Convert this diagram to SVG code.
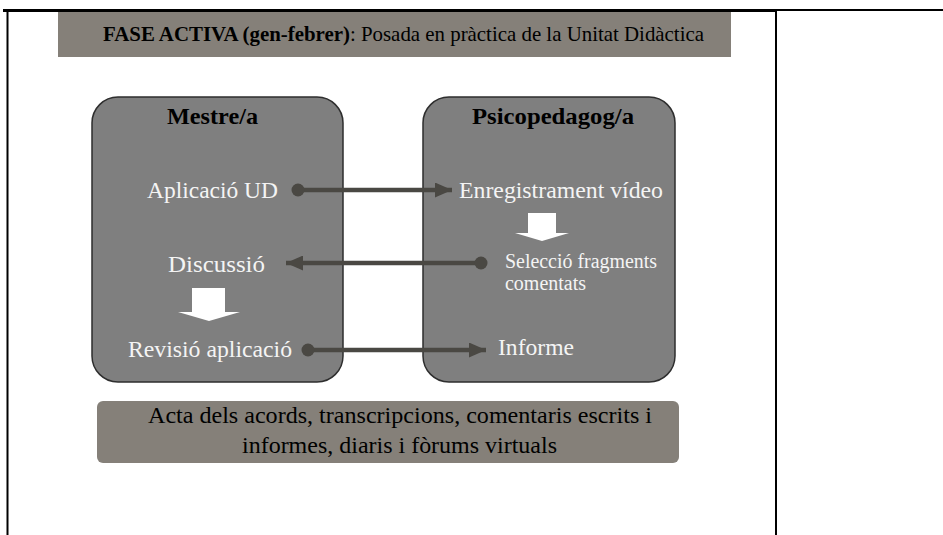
<svg xmlns="http://www.w3.org/2000/svg" width="943" height="535" viewBox="0 0 943 535">
<style>
text{font-family:"Liberation Serif","Times New Roman",serif}
.role{fill:#7f7f7f;stroke:#2e2e2e;stroke-width:1.5}
.band{fill:#858079}
.t{fill:#f4f4f4;font-size:24px}
.s{fill:#f4f4f4;font-size:20px}
.ttl{fill:#000;font-size:24px;font-weight:bold}
.dk{fill:#000}
.con{stroke:#4a4843;stroke-width:4.5;fill:none}
.dot{fill:#4a4843}
.blk{fill:#ffffff}
</style>
<defs>
<marker id="ah" viewBox="0 0 17 15" refX="17" refY="7.5" markerWidth="17" markerHeight="15" markerUnits="userSpaceOnUse" orient="auto">
<path d="M0,0 L17,7.5 L0,15 Z" fill="#4a4843"/>
</marker>
</defs>
<g id="frame">
<rect x="3" y="9" width="773" height="3" fill="#000"/>
<rect x="776" y="9" width="167" height="2" fill="#000"/>
<rect x="6.5" y="11" width="2" height="524" fill="#000"/>
<rect x="775" y="11" width="2" height="524" fill="#000"/>
</g>
<g id="header">
<rect class="band" x="58" y="12" width="673" height="45"/>
<text class="dk" x="103" y="41" font-size="21" textLength="601" lengthAdjust="spacingAndGlyphs"><tspan font-weight="bold">FASE ACTIVA (gen-febrer)</tspan>: Posada en pràctica de la Unitat Didàctica</text>
</g>
<g id="mestre">
<rect class="role" x="92" y="97" width="251" height="285" rx="26" ry="26"/>
<text class="ttl" x="167" y="124" textLength="91" lengthAdjust="spacingAndGlyphs">Mestre/a</text>
<text class="t" x="147" y="198" textLength="131" lengthAdjust="spacingAndGlyphs">Aplicació UD</text>
<text class="t" x="168" y="272" textLength="97" lengthAdjust="spacingAndGlyphs">Discussió</text>
<polygon class="blk" points="192,288 225,288 225,312 240,312 209,321 178,312 192,312"/>
<text class="t" x="128" y="357" textLength="164" lengthAdjust="spacingAndGlyphs">Revisió aplicació</text>
</g>
<g id="psicopedagog">
<rect class="role" x="423" y="97" width="252" height="285" rx="26" ry="26"/>
<text class="ttl" x="472" y="124" textLength="162" lengthAdjust="spacingAndGlyphs">Psicopedagog/a</text>
<text class="t" x="459" y="198" textLength="204" lengthAdjust="spacingAndGlyphs">Enregistrament vídeo</text>
<polygon class="blk" points="528,213 556,213 556,233 569,233 542,241 515,233 528,233"/>
<text class="s" x="505" y="268" textLength="152" lengthAdjust="spacingAndGlyphs">Selecció fragments</text>
<text class="s" x="505" y="290" textLength="81" lengthAdjust="spacingAndGlyphs">comentats</text>
<text class="t" x="498" y="355" textLength="76" lengthAdjust="spacingAndGlyphs">Informe</text>
</g>
<g id="documents">
<rect class="band" x="97" y="401" width="582" height="62" rx="6" ry="6"/>
<text class="dk" x="148" y="423" font-size="24" textLength="504" lengthAdjust="spacingAndGlyphs">Acta dels acords, transcripcions, comentaris escrits i</text>
<text class="dk" x="242" y="453" font-size="24" textLength="315" lengthAdjust="spacingAndGlyphs">informes, diaris i fòrums virtuals</text>
</g>
<g id="connectors">
<line class="con" x1="298" y1="190" x2="452" y2="190" marker-end="url(#ah)"/>
<circle class="dot" cx="298" cy="190" r="6.5"/>
<line class="con" x1="481" y1="263" x2="286" y2="263" marker-end="url(#ah)"/>
<circle class="dot" cx="481" cy="263" r="6.5"/>
<line class="con" x1="308" y1="350" x2="486" y2="350" marker-end="url(#ah)"/>
<circle class="dot" cx="308" cy="350" r="6.5"/>
</g>
</svg>
